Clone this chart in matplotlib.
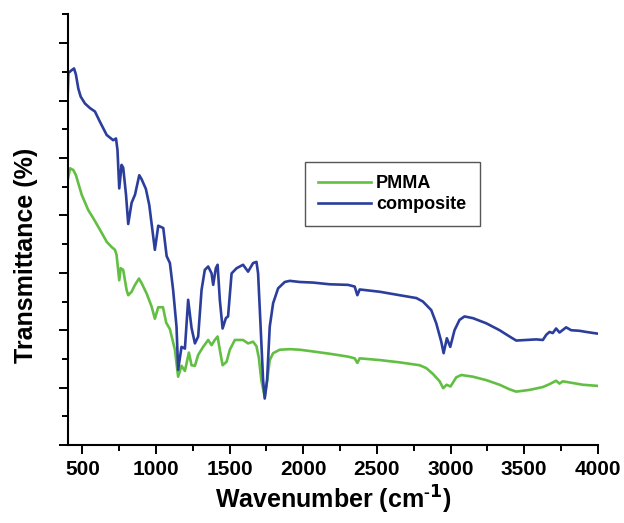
import matplotlib
matplotlib.use("Agg")
import matplotlib.pyplot as plt
from matplotlib.ticker import MultipleLocator, NullFormatter

plt.rcParams['font.family'] = ['Liberation Sans', 'DejaVu Sans']
plt.rcParams['font.weight'] = 'bold'
plt.rcParams['mathtext.default'] = 'bf'

# composite (blue)
comp_wn = [400, 404, 427, 443, 456, 472, 488, 517, 551, 585, 619, 665, 709, 728, 738, 750, 766, 777,
           796, 811, 834, 857, 886, 902, 931, 954, 992, 1015, 1049, 1072, 1094, 1116, 1139, 1150,
           1173, 1196, 1218, 1241, 1264, 1286, 1309, 1331, 1354, 1377, 1388, 1406, 1418, 1433, 1452,
           1474, 1489, 1513, 1547, 1591, 1625, 1659, 1682, 1693, 1709, 1727, 1738, 1754, 1772, 1795,
           1829, 1874, 1908, 1976, 2066, 2179, 2304, 2349, 2367, 2383, 2519, 2654, 2768, 2812, 2835,
           2869, 2903, 2937, 2953, 2975, 2998, 3027, 3061, 3095, 3152, 3243, 3333, 3401, 3446, 3514,
           3582, 3627, 3650, 3672, 3694, 3717, 3740, 3785, 3819, 3875, 3921, 4000]
comp_t = [61.0, 64.8, 65.3, 65.6, 64.5, 62.1, 60.7, 59.5, 58.7, 58.1, 56.3, 54.0, 53.1, 53.4, 51.4, 44.7,
          48.8, 48.3, 43.6, 38.5, 42.2, 43.6, 47.0, 46.3, 44.6, 41.8, 34.0, 38.2, 37.8, 32.9, 31.7, 27.0,
          20.6, 13.1, 17.1, 16.8, 25.3, 20.4, 17.7, 18.9, 27.0, 30.5, 31.1, 29.9, 27.9, 30.8, 31.4, 25.3,
          20.3, 22.1, 22.4, 29.9, 30.8, 31.4, 30.2, 31.7, 31.9, 29.9, 21.2, 11.3, 8.1, 11.3, 20.6, 24.7,
          27.3, 28.4, 28.6, 28.4, 28.3, 28.0, 27.9, 27.6, 26.1, 27.1, 26.7, 26.1, 25.6, 25.0, 24.4, 23.5,
          21.2, 18.0, 16.0, 18.6, 17.1, 20.0, 21.8, 22.4, 22.1, 21.2, 20.0, 18.9, 18.2, 18.3, 18.4, 18.3,
          19.2, 19.7, 19.5, 20.3, 19.6, 20.5, 20.0, 19.9, 19.7, 19.4]

# PMMA (green)
pmma_wn = [400, 416, 438, 456, 472, 495, 540, 574, 619, 665, 698, 721, 732, 750, 760, 777, 800, 811,
           834, 857, 884, 902, 936, 970, 992, 1015, 1047, 1069, 1094, 1128, 1150, 1173, 1196, 1223,
           1241, 1264, 1286, 1320, 1354, 1377, 1399, 1418, 1433, 1452, 1479, 1501, 1535, 1591, 1625,
           1659, 1682, 1698, 1715, 1738, 1755, 1772, 1795, 1840, 1908, 1976, 2066, 2179, 2304, 2349,
           2367, 2383, 2519, 2654, 2790, 2835, 2880, 2926, 2950, 2973, 3000, 3039, 3073, 3152, 3243,
           3333, 3401, 3446, 3536, 3627, 3672, 3717, 3740, 3762, 3808, 3898, 4000]
pmma_t = [46.2, 48.2, 47.9, 47.0, 45.6, 43.6, 40.9, 39.5, 37.5, 35.4, 34.5, 34.0, 33.1, 28.7, 30.8, 30.5,
          27.0, 26.1, 26.7, 27.9, 29.0, 28.2, 26.4, 24.1, 22.0, 24.0, 24.0, 21.3, 20.2, 16.6, 11.9, 13.8,
          12.9, 16.1, 13.9, 13.8, 15.7, 17.1, 18.3, 17.4, 18.3, 18.9, 16.6, 13.9, 14.5, 16.6, 18.3, 18.3,
          17.7, 18.0, 17.2, 15.2, 11.3, 8.4, 11.3, 14.8, 16.0, 16.6, 16.7, 16.6, 16.3, 15.9, 15.4, 15.1,
          14.3, 15.1, 14.8, 14.4, 13.9, 13.4, 12.4, 11.1, 9.9, 10.5, 10.2, 11.8, 12.2, 11.9, 11.3,
          10.5, 9.7, 9.3, 9.6, 10.1, 10.6, 11.2, 10.7, 11.1, 10.9, 10.5, 10.3]

labels = ["PMMA", "composite"]
xticks = [500, 1000, 1500, 2000, 2500, 3000, 3500, 4000]

fig = plt.figure(figsize=(6.24, 5.23), dpi=100)
ax = fig.add_axes([0.1085, 0.1491, 0.8495, 0.8232])

ax.plot(pmma_wn, pmma_t, color='#62bf43', lw=1.9, label=labels[0])
ax.plot(comp_wn, comp_t, color='#2c3e9c', lw=1.9, label=labels[1])

ax.set_xlim(400, 4000)
ax.set_ylim(0, 75)
ax.set_xticks(xticks)
ax.set_xticklabels([str(v) for v in xticks])
ax.xaxis.set_minor_locator(MultipleLocator(250))
ax.yaxis.set_major_locator(MultipleLocator(10))
ax.yaxis.set_minor_locator(MultipleLocator(5))
ax.yaxis.set_major_formatter(NullFormatter())

for s in ['top', 'right']:
    ax.spines[s].set_visible(False)
for s in ['left', 'bottom']:
    ax.spines[s].set_linewidth(1.5)

ax.tick_params(which='major', direction='out', length=6.5, width=1.4, labelsize=15, pad=4)
ax.tick_params(which='minor', direction='out', length=4.2, width=1.4)
for lab in ax.get_xticklabels():
    lab.set_fontweight('bold')

ax.set_xlabel("Wavenumber (cm$^{\\mathregular{\u2010}1}$)", fontsize=18, fontweight='bold', labelpad=4)
ax.set_ylabel("Transmittance (%)", fontsize=18, fontweight='bold')
ax.yaxis.set_label_coords(-0.056, 0.44)

leg = ax.legend(loc='upper left', bbox_to_anchor=(0.4475, 0.658), borderaxespad=0,
                prop={'weight': 'bold', 'size': 13}, fancybox=False,
                edgecolor='#555555', framealpha=1, handlelength=2.9, handletextpad=0.3,
                labelspacing=0.2, borderpad=0.75)
leg.get_frame().set_linewidth(1.0)

fig.savefig("out.png", dpi=100, facecolor='white')
